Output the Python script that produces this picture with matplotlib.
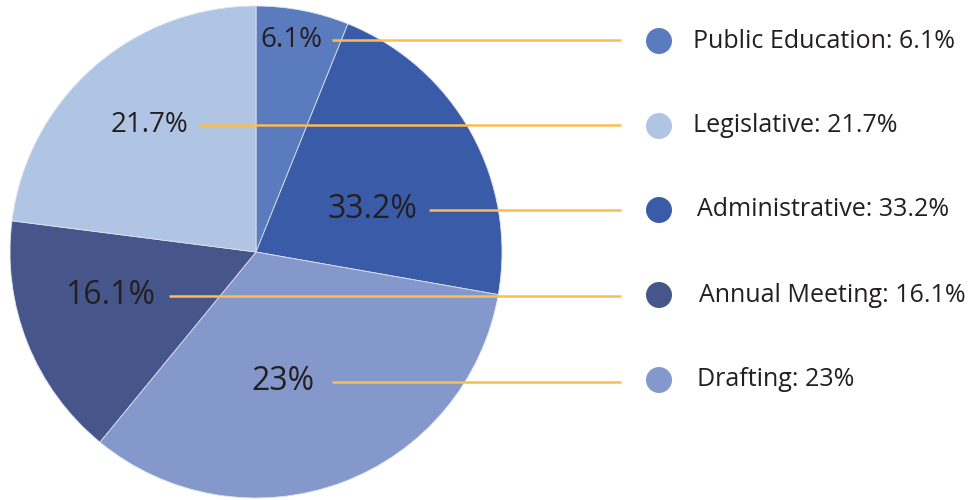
import matplotlib.pyplot as plt
from matplotlib.patches import Circle

# categories and values, in legend order (top to bottom)
names = ['Public Education', 'Legislative', 'Administrative', 'Annual Meeting', 'Drafting']
shares = [6.1, 21.7, 33.2, 16.1, 23]
colors = ['#5b7bbf', '#b0c4e4', '#395ba8', '#46558a', '#8598cc']

# the pie draws the values clockwise from the top in the same order,
# but the slices are filled in this order of category colours
slice_color_names = ['Public Education', 'Administrative', 'Drafting', 'Annual Meeting', 'Legislative']

W, H = 969, 500
fig = plt.figure(figsize=(W / 100, H / 100), dpi=100)
ax = fig.add_axes([0, 0, 1, 1])

plt.rcParams['font.family'] = ['Open Sans', 'DejaVu Sans']

col = dict(zip(names, colors))
cx, cy, r = 256, H - 252, 246
ax.pie(shares, colors=[col[n] for n in slice_color_names], startangle=90,
       counterclock=False, center=(cx, cy), radius=r, frame=True,
       wedgeprops=dict(edgecolor='#dde3f0', linewidth=0.6))
ax.set_xlim(0, W)
ax.set_ylim(0, H)
ax.set_aspect('equal')
ax.axis('off')

# label placement (pixel coords from top-left): right edge, y, font size
lab_x = [322, 188, 417, 155, 315]
lab_y = [40, 125, 210, 296, 382]
lab_fs = [20, 20, 23, 23, 23]
line_start = [332, 199, 429, 169, 332]
legend_y = [41, 126, 210, 295, 380]
legend_tx = [693, 693, 697, 699, 697]

for i, name in enumerate(names):
    txt = f'{shares[i]:g}%'
    y = H - lab_y[i]
    ax.text(lab_x[i], y, txt, ha='right', va='center', fontsize=lab_fs[i], color='#231f20')
    ax.plot([line_start[i], 621], [y, y], color='#fbbd4f', lw=1.8,
            solid_capstyle='butt')
    ax.add_patch(Circle((659, H - legend_y[i]), 13, color=colors[i], lw=0))
    ax.text(legend_tx[i], H - legend_y[i], f'{name}: {txt}', ha='left', va='center',
            fontsize=18, color='#231f20')

fig.savefig('out.png', dpi=100)
